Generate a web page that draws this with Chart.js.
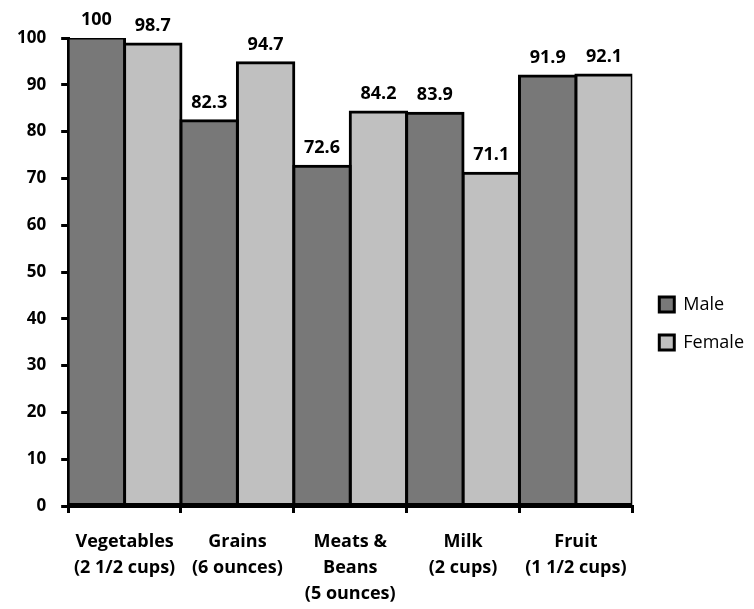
<!DOCTYPE html>
<html><head><meta charset="utf-8">
<script src="https://cdn.jsdelivr.net/npm/chart.js@4"></script>
<style>html,body{margin:0;padding:0;background:#fff}#wrap{width:754px;height:609px}</style>
</head><body><div id="wrap"><canvas id="c" width="754" height="609"></canvas></div>
<script>
const categories = [["Vegetables","(2 1/2 cups)"],["Grains","(6 ounces)"],["Meats &","Beans","(5 ounces)"],["Milk","(2 cups)"],["Fruit","(1 1/2 cups)"]];
const maleValues = [100, 82.3, 72.6, 83.9, 91.9];
const femaleValues = [98.7, 94.7, 84.2, 71.1, 92.1];
const seriesNames = ["Male","Female"];
const yTicks = [0,10,20,30,40,50,60,70,80,90,100];

const FONT = "'Open Sans', Lato, sans-serif";
const valueLabels = {
  id:'valueLabels',
  afterDatasetsDraw(chart){
    const ctx = chart.ctx;
    ctx.save();
    ctx.font = "bold 18px " + FONT;
    ctx.fillStyle = "#000";
    ctx.textAlign = "center";
    ctx.textBaseline = "bottom";
    chart.data.datasets.forEach((ds,i)=>{
      chart.getDatasetMeta(i).data.forEach((bar,j)=>{
        ctx.fillText(String(ds.data[j]), bar.x, bar.y - 9);
      });
    });
    ctx.restore();
  }
};

new Chart(document.getElementById('c'), {
  type:'bar',
  data:{
    labels: categories,
    datasets:[
      {label:seriesNames[0], data:maleValues, backgroundColor:'#787878', borderColor:'#000', borderWidth:3, inflateAmount:1.5, borderSkipped:false, categoryPercentage:1, barPercentage:1},
      {label:seriesNames[1], data:femaleValues, backgroundColor:'#c0c0c0', borderColor:'#000', borderWidth:3, inflateAmount:1.5, borderSkipped:false, categoryPercentage:1, barPercentage:1}
    ]
  },
  options:{
    responsive:false, animation:false,
    layout:{padding:{top:38,left:2,right:0,bottom:0}},
    plugins:{
      legend:{position:'right', align:'center',
        labels:{font:{family:FONT,size:18}, color:'#000', boxWidth:15, boxHeight:15, padding:20}},
      tooltip:{enabled:false}
    },
    scales:{
      x:{
        afterFit(scale){ scale.height = 103; },
        grid:{display:true, drawOnChartArea:false, offset:true, color:'#000', lineWidth:3, tickLength:7},
        border:{display:true, color:'#000', width:3},
        ticks:{font:{family:FONT,size:18,weight:'bold',lineHeight:1.45}, color:'#000', maxRotation:0, autoSkip:false, padding:16}
      },
      y:{
        min:0, max:100,
        afterBuildTicks(axis){ axis.ticks = yTicks.map(v=>({value:v})); },
        grid:{display:true, drawOnChartArea:false, color:'#000', lineWidth:3, tickLength:7},
        border:{display:true, color:'#000', width:3},
        ticks:{font:{family:FONT,size:17,weight:'bold'}, color:'#000', padding:15}
      },
      spacer:{
        type:'linear', position:'right', display:true,
        grid:{display:false}, border:{display:false}, ticks:{display:false},
        afterFit(scale){ scale.width = 7; }
      }
    }
  },
  plugins:[valueLabels]
});
</script></body></html>
